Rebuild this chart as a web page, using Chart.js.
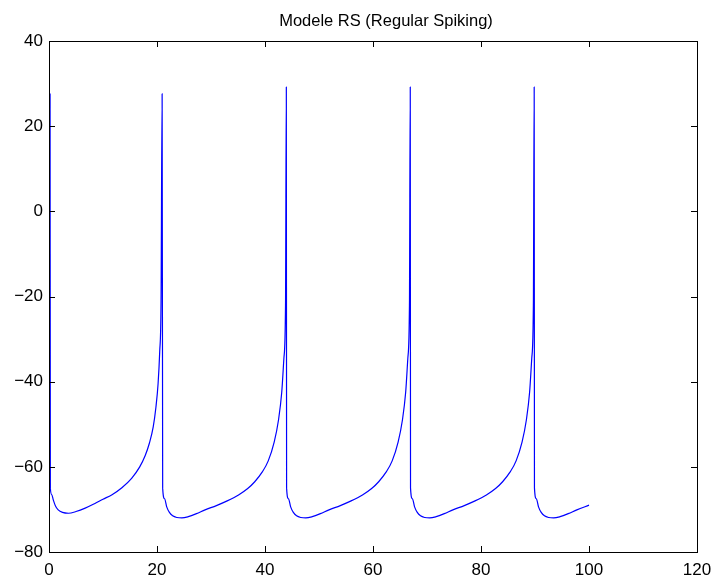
<!DOCTYPE html>
<html lang="en">

<head>
    <meta charset="UTF-8">
    <script src="https://cdn.jsdelivr.net/npm/chart.js"></script>
    <style>
        body { margin: 0; background: #fff; }
        #wrap { width: 713px; height: 579px; }
    </style>
</head>

<body>
    <div id="wrap"><canvas id="rsChart" width="713" height="579"></canvas></div>

    <script>
        // membrane potential trace (time ms, potential mV)
        const timeMs = [
            0.2, 0.25, 0.5, 0.8, 1.2, 1.7, 2.5, 3.6, 5.0, 6.7, 8.5, 10.0, 11.6, 13.5, 15.3, 16.8, 17.8, 18.6, 19.3, 19.8, 20.2, 20.5, 20.75, 20.95,
            21.05, 21.4, 21.8, 22.3, 22.9, 23.7, 24.6, 25.8, 27.3, 28.9, 31.0, 33.0, 35.1, 36.8, 38.1, 39.5, 40.6, 41.7, 42.5, 43.1, 43.5, 43.8, 43.95,
            44.0, 44.35, 44.75, 45.25, 45.85, 46.65, 47.55, 48.75, 50.25, 51.85, 53.95, 55.95, 58.05, 59.75, 61.05, 62.45, 63.55, 64.65, 65.45, 66.05, 66.45, 66.75, 66.9,
            66.95, 67.3, 67.7, 68.2, 68.8, 69.6, 70.5, 71.7, 73.2, 74.8, 76.9, 78.9, 81.0, 82.7, 84.0, 85.4, 86.5, 87.6, 88.4, 89.0, 89.4, 89.7, 89.85,
            89.9, 90.25, 90.65, 91.15, 91.75, 92.55, 93.45, 94.65, 96.15, 97.75, 100.0
        ];
        const potentialMv = [
            27.7, -65, -66.5, -67.8, -69.2, -70.1, -70.7, -70.9, -70.5, -69.7, -68.6, -67.6, -66.6, -64.9, -62.7, -60.0, -57.4, -54.4, -50.6, -46.0, -40.5, -33, -21, 27.6,
            -65, -67.5, -69.4, -70.7, -71.5, -71.9, -72.0, -71.7, -71.0, -70.1, -69.1, -68.0, -66.6, -65.1, -63.5, -61.2, -58.6, -54.2, -49.0, -42.5, -34.5, -22, 29.2,
            -65, -67.5, -69.4, -70.7, -71.5, -71.9, -72.0, -71.7, -71.0, -70.1, -69.1, -68.0, -66.6, -65.1, -63.5, -61.2, -58.6, -54.2, -49.0, -42.5, -34.5, -22, 29.2,
            -65, -67.5, -69.4, -70.7, -71.5, -71.9, -72.0, -71.7, -71.0, -70.1, -69.1, -68.0, -66.6, -65.1, -63.5, -61.2, -58.6, -54.2, -49.0, -42.5, -34.5, -22, 29.2,
            -65, -67.5, -69.4, -70.7, -71.5, -71.9, -72.0, -71.7, -71.0, -70.1, -69.0
        ];
        const xTicks = [0, 20, 40, 60, 80, 100, 120];
        const yTicks = [-80, -60, -40, -20, 0, 20, 40];
        const titleText = 'Modele RS (Regular Spiking)';

        const points = timeMs.map((t, i) => ({ x: t, y: potentialMv[i] }));
        const fmt = v => String(v).replace('-', '\u2212');

        // matlab style box with inward ticks on all four sides, plus the title
        const boxTicks = {
            id: 'boxTicks',
            afterDraw(chart) {
                const { ctx, chartArea: a, scales } = chart;
                ctx.save();
                ctx.strokeStyle = '#000';
                ctx.lineWidth = 1;
                ctx.strokeRect(a.left + 0.5, a.top + 0.5, a.right - a.left, a.bottom - a.top);
                ctx.beginPath();
                xTicks.forEach(v => {
                    const px = Math.round(scales.x.getPixelForValue(v)) + 0.5;
                    ctx.moveTo(px, a.bottom); ctx.lineTo(px, a.bottom - 6);
                    ctx.moveTo(px, a.top); ctx.lineTo(px, a.top + 6);
                });
                yTicks.forEach(v => {
                    const py = Math.round(scales.y.getPixelForValue(v)) + 0.5;
                    ctx.moveTo(a.left, py); ctx.lineTo(a.left + 6, py);
                    ctx.moveTo(a.right, py); ctx.lineTo(a.right - 6, py);
                });
                ctx.stroke();
                ctx.fillStyle = '#000';
                ctx.font = '16.5px "Liberation Sans"';
                ctx.textAlign = 'center';
                ctx.textBaseline = 'middle';
                ctx.fillText(titleText, 386, 21);
                ctx.restore();
            }
        };

        const ctx = document.getElementById('rsChart').getContext('2d');
        new Chart(ctx, {
            type: 'scatter',
            data: {
                datasets: [{
                    data: points,
                    showLine: true,
                    borderColor: '#0000ff',
                    borderWidth: 1.2,
                    pointRadius: 0,
                    cubicInterpolationMode: 'monotone'
                }]
            },
            options: {
                responsive: false,
                animation: false,
                layout: { padding: { left: 0, right: 16, top: 41, bottom: 0 } },
                plugins: {
                    legend: { display: false },
                    tooltip: { enabled: false },
                    title: { display: false }
                },
                scales: {
                    x: {
                        type: 'linear',
                        min: 0,
                        max: 120,
                        afterBuildTicks: s => { s.ticks = xTicks.map(v => ({ value: v })); },
                        afterFit: s => { s.height = 27; s.paddingLeft = 0; s.paddingRight = 0; },
                        grid: { drawOnChartArea: false, drawTicks: false },
                        border: { display: false },
                        ticks: { color: '#000', padding: 8, maxRotation: 0, callback: fmt, font: { family: 'Liberation Sans', size: 17 } }
                    },
                    y: {
                        min: -80,
                        max: 40,
                        afterBuildTicks: s => { s.ticks = yTicks.map(v => ({ value: v })); },
                        afterFit: s => { s.width = 49; s.paddingTop = 0; s.paddingBottom = 0; },
                        grid: { drawOnChartArea: false, drawTicks: false },
                        border: { display: false },
                        ticks: { color: '#000', padding: 6, callback: fmt, font: { family: 'Liberation Sans', size: 17 } }
                    }
                }
            },
            plugins: [boxTicks]
        });
    </script>
</body>

</html>
